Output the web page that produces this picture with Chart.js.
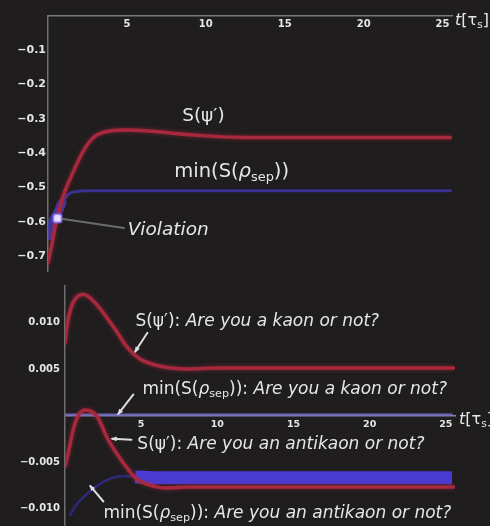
<!DOCTYPE html>
<html>
<head>
<meta charset="utf-8">
<script src="https://cdn.jsdelivr.net/npm/chart.js@4"></script>
<style>
  html, body { margin: 0; padding: 0; width: 490px; height: 526px; overflow: hidden; background: #1f1d1e; }
  canvas { position: absolute; left: 0; display: block; }
</style>
</head>
<body>
<canvas id="upper" width="490" height="280" style="top:0"></canvas>
<canvas id="lower" width="490" height="246" style="top:280px"></canvas>
<script>
// ---- upper panel: entropy of the psi' state vs. the separable bound ----
const tUpper      = [0, 0.25, 0.5, 0.75, 1, 1.5, 2, 2.5, 3, 3.5, 4, 5, 6, 7, 8, 10, 12, 15, 20, 25.5];
const sPsiPrime   = [-0.72, -0.665, -0.605, -0.56, -0.52, -0.465, -0.415, -0.375, -0.35, -0.34, -0.335, -0.333, -0.334, -0.338, -0.343, -0.35, -0.354, -0.355, -0.355, -0.355];
const tMinUpper   = [0.05, 0.3, 0.6, 0.9, 1.3, 1.8, 2.5, 10, 20, 25.5];
const minSepUpper = [-0.64, -0.6, -0.575, -0.545, -0.52, -0.512, -0.51, -0.51, -0.51, -0.51];
const violationT  = [0.6];
const violationS  = [-0.59];
const upperTimeTicks  = [5, 10, 15, 20, 25];
const upperValueTicks = [-0.1, -0.2, -0.3, -0.4, -0.5, -0.6, -0.7];

// ---- lower panel: "kaon or not" / "antikaon or not" questions ----
const tKaon    = [0, 0.15, 0.4, 0.7, 1.2, 1.6, 2.1, 2.8, 3.4, 4.1, 4.9, 6, 7, 8, 10, 15, 20, 25.5];
const sKaon    = [0.0078, 0.0098, 0.0116, 0.0126, 0.013, 0.0127, 0.0119, 0.0104, 0.009, 0.0073, 0.0061, 0.0054, 0.0051, 0.005, 0.0051, 0.0051, 0.0051, 0.0051];
const tMinKaon = [0, 25.4];
const minKaon  = [0.0001, 0.0001];
const tAnti    = [0, 0.23, 0.56, 0.9, 1.34, 2.1, 2.8, 3.4, 4.1, 4.75, 5.4, 6.7, 8, 10, 15, 20, 25.5];
const sAnti    = [-0.0055, -0.0039, -0.0014, 0.0001, 0.0006, -0.0001, -0.0025, -0.0041, -0.0057, -0.0069, -0.0074, -0.0078, -0.0077, -0.0077, -0.0077, -0.0077, -0.0077];
const tMinAnti = [0.3, 0.7, 1.2, 1.9, 2.8, 3.8, 4.6, 6, 10, 15, 20, 25.4];
const minAnti  = [-0.0108, -0.0097, -0.0088, -0.0078, -0.0069, -0.0065, -0.0066, -0.0067, -0.0067, -0.0067, -0.0067, -0.0067];
const lowerTimeTicks  = [5, 10, 15, 20, 25];
const lowerValueTicks = [0.01, 0.005, -0.005, -0.01];

const pts = (xs, ys) => xs.map((x, i) => ({ x, y: ys[i] }));
const FONT = '"DejaVu Sans", "Liberation Sans", sans-serif';
const INK = '#e6e6e6';
const RED = '#a8283e';
const REDGLOW = 'rgba(190,45,65,0.55)';

// rich-text pieces
const psiRuns = [{ text: 'S(ψ′)' }];
const sepRuns = [{ text: 'min(S(' }, { text: 'ρ', italic: true }, { text: 'sep', sub: true }, { text: '))' }];
const timeTitle = [{ text: 't', italic: true }, { text: '[τ' }, { text: 's', sub: true }, { text: ']' }];

function drawRuns(ctx, runs, x, y, size) {
  let cx = x;
  for (const r of runs) {
    const s = r.sub ? size * 0.66 : size;
    ctx.font = (r.italic ? 'italic ' : '') + s.toFixed(1) + 'px ' + FONT;
    ctx.fillText(r.text, cx, r.sub ? y + size * 0.3 : y);
    cx += ctx.measureText(r.text).width;
  }
}

function drawArrow(ctx, x1, y1, x2, y2, color, width, head) {
  ctx.strokeStyle = color;
  ctx.fillStyle = color;
  ctx.lineWidth = width;
  ctx.lineCap = 'round';
  ctx.beginPath();
  ctx.moveTo(x1, y1);
  ctx.lineTo(x2, y2);
  ctx.stroke();
  if (head) {
    const a = Math.atan2(y2 - y1, x2 - x1);
    ctx.beginPath();
    ctx.moveTo(x2 + Math.cos(a) * 2, y2 + Math.sin(a) * 2);
    ctx.lineTo(x2 - Math.cos(a - 0.5) * head, y2 - Math.sin(a - 0.5) * head);
    ctx.lineTo(x2 - Math.cos(a + 0.5) * head, y2 - Math.sin(a + 0.5) * head);
    ctx.closePath();
    ctx.fill();
  }
}

// labels, arrows and the axis title, placed in data coordinates
const notesPlugin = {
  id: 'notes',
  beforeDatasetDraw(chart, args) {
    const ds = chart.data.datasets[args.index];
    if (ds.glow) {
      chart.ctx.save();
      chart.ctx.shadowColor = ds.glow;
      chart.ctx.shadowBlur = 4;
    }
  },
  afterDatasetDraw(chart, args) {
    if (chart.data.datasets[args.index].glow) chart.ctx.restore();
  },
  afterDatasetsDraw(chart, args, opts) {
    const ctx = chart.ctx, xs = chart.scales.x, ys = chart.scales.y;
    const px = t => xs.getPixelForValue(t), py = v => ys.getPixelForValue(v);
    ctx.save();
    for (const a of opts.arrows || []) {
      drawArrow(ctx, px(a.from[0]), py(a.from[1]), px(a.to[0]), py(a.to[1]), a.color, a.width, a.head);
    }
    ctx.textBaseline = 'middle';
    ctx.textAlign = 'left';
    ctx.fillStyle = INK;
    for (const n of opts.labels || []) drawRuns(ctx, n.runs, px(n.at[0]), py(n.at[1]), n.size);
    drawRuns(ctx, timeTitle, xs.right + opts.titleDx, py(0) + opts.titleDy, opts.titleSize);
    ctx.restore();
  }
};

function panelOptions(cfg) {
  return {
    responsive: false,
    animation: false,
    events: [],
    layout: { padding: cfg.padding },
    elements: {
      point: { radius: 0 },
      line: { cubicInterpolationMode: 'monotone', borderCapStyle: 'round', borderJoinStyle: 'round' }
    },
    plugins: { legend: { display: false }, tooltip: { enabled: false }, notes: cfg.notes },
    scales: {
      x: {
        type: 'linear', min: 0, max: 25.6, position: { y: 0 },
        afterFit: s => { s.height = 0; s.paddingLeft = 0; s.paddingRight = 0; },
        afterBuildTicks: s => { s.ticks = cfg.xTicks.map(v => ({ value: v })); },
        grid: { display: true, drawOnChartArea: false, drawTicks: false },
        border: { display: true, color: cfg.xAxisColor, width: 1.5 },
        ticks: { color: INK, padding: cfg.xTickPad, maxRotation: 0, autoSkip: false,
                 font: { family: FONT, weight: 'bold', size: cfg.xTickSize } }
      },
      y: {
        type: 'linear', min: cfg.yMin, max: cfg.yMax,
        afterFit: s => { s.width = cfg.left; s.paddingTop = 0; s.paddingBottom = 0; },
        afterBuildTicks: s => { s.ticks = cfg.yTicks.map(v => ({ value: v })); },
        grid: { display: true, drawOnChartArea: false, drawTicks: false },
        border: { display: true, color: '#6e6e6e', width: 1.5 },
        ticks: { color: INK, padding: cfg.yTickPad, callback: cfg.yFormat,
                 font: { family: FONT, weight: 'bold', size: cfg.yTickSize } }
      }
    }
  };
}

const minus = v => (v < 0 ? '\u2212' : '');

new Chart(document.getElementById('upper'), {
  type: 'line',
  data: {
    datasets: [
      { data: pts(violationT, violationS), showLine: false, pointRadius: 5, pointStyle: 'rectRounded',
        pointBackgroundColor: '#eadcff', pointBorderColor: 'rgba(120,100,255,0.75)', pointBorderWidth: 2 },
      { data: pts(tUpper, sPsiPrime), borderColor: RED, borderWidth: 3.5, glow: REDGLOW },
      { data: pts(tMinUpper, minSepUpper), borderColor: '#3b3192', borderWidth: 3,
        segment: {
          borderWidth: c => (c.p0.parsed.x < 0.9 ? 9 : 3),
          borderColor: c => (c.p0.parsed.x < 0.9 ? 'rgba(80,70,235,0.6)' : '#3b3192')
        } }
    ]
  },
  options: panelOptions({
    padding: { top: 15.7, right: 38, bottom: 8.5, left: 0 },
    left: 48, yMin: -0.745, yMax: 0,
    xTicks: upperTimeTicks, yTicks: upperValueTicks,
    xAxisColor: '#7a7a7a', xTickSize: 10, xTickPad: 3, yTickSize: 11, yTickPad: 2,
    yFormat: v => minus(v) + Math.abs(v).toFixed(1),
    notes: {
      titleDx: 3, titleDy: 5, titleSize: 16,
      arrows: [ { from: [0.95, -0.592], to: [4.81, -0.618], color: '#6c6c6c', width: 2, head: 0 } ],
      labels: [
        { runs: psiRuns, at: [8.5, -0.292], size: 18.5 },
        { runs: sepRuns, at: [8.0, -0.455], size: 19.5 },
        { runs: [{ text: 'Violation', italic: true }], at: [5.05, -0.624], size: 18.5 }
      ]
    }
  }),
  plugins: [notesPlugin]
});

new Chart(document.getElementById('lower'), {
  type: 'line',
  data: {
    datasets: [
      { data: pts(tKaon, sKaon), borderColor: RED, borderWidth: 3.5, glow: REDGLOW },
      { data: pts(tAnti, sAnti), borderColor: RED, borderWidth: 3.5, glow: REDGLOW },
      { data: pts(tMinAnti, minAnti), borderColor: '#2c2a7c', borderWidth: 2.5, borderCapStyle: 'butt',
        segment: {
          borderWidth: c => (c.p0.parsed.x >= 4.6 ? 13 : 2.5),
          borderColor: c => (c.p0.parsed.x >= 4.6 ? '#4a3cd2' : '#2c2a7c')
        } },
      { data: pts(tMinKaon, minKaon), borderColor: '#6c66b8', borderWidth: 2 }
    ]
  },
  options: panelOptions({
    padding: { top: 5.3, right: 35, bottom: 0.4, left: 0 },
    left: 65, yMin: -0.01184, yMax: 0.014,
    xTicks: lowerTimeTicks, yTicks: lowerValueTicks,
    xAxisColor: '#8782b6', xTickSize: 9.5, xTickPad: 3, yTickSize: 10, yTickPad: 5,
    yFormat: v => minus(v) + Math.abs(v).toFixed(3),
    notes: {
      titleDx: 4, titleDy: 4, titleSize: 16,
      arrows: [
        { from: [5.41, 0.0089], to: [4.62, 0.0069], color: '#dedede', width: 2, head: 5 },
        { from: [4.49, 0.00226], to: [3.51, 0.0002], color: '#dedede', width: 2, head: 5 },
        { from: [4.36, -0.0026], to: [3.11, -0.0025], color: '#dedede', width: 2, head: 5 },
        { from: [2.52, -0.00925], to: [1.67, -0.0076], color: '#dedede', width: 2, head: 5 }
      ],
      labels: [
        { runs: [...psiRuns, { text: ': ' }, { text: 'Are you a kaon or not?', italic: true }], at: [4.62, 0.0101], size: 17 },
        { runs: [...sepRuns, { text: ': ' }, { text: 'Are you a kaon or not?', italic: true }], at: [5.08, 0.0028], size: 17 },
        { runs: [...psiRuns, { text: ': ' }, { text: 'Are you an antikaon or not?', italic: true }], at: [4.75, -0.0031], size: 17 },
        { runs: [...sepRuns, { text: ': ' }, { text: 'Are you an antikaon or not?', italic: true }], at: [2.52, -0.0105], size: 17 }
      ]
    }
  }),
  plugins: [notesPlugin]
});
</script>
</body>
</html>
